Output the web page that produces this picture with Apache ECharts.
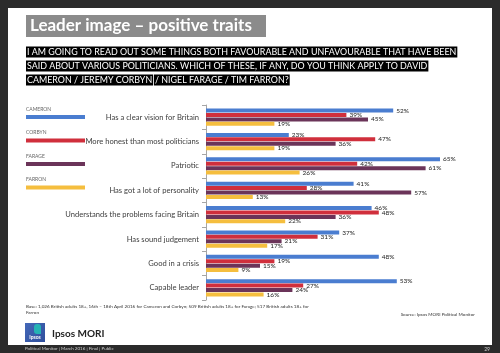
<!DOCTYPE html>
<html>
<head>
<meta charset="utf-8">
<script src="https://cdn.jsdelivr.net/npm/echarts@6/dist/echarts.min.js"></script>
<style>
  html, body { margin: 0; padding: 0; background: #2b2b2b; }
  #chart { width: 500px; height: 353px; }
</style>
</head>
<body>
<div id="chart"></div>
<script>
// traits, top to bottom
const traits = [
    'Has a clear vision for Britain',
    'More honest than most politicians',
    'Patriotic',
    'Has got a lot of personality',
    'Understands the problems facing Britain',
    'Has sound judgement',
    'Good in a crisis',
    'Capable leader'
]
const leaders = ['CAMERON', 'CORBYN', 'FARAGE', 'FARRON']
const leaderColors = ['#4a7dd0', '#d02f3c', '#6b3459', '#f5be3e']

// % saying the trait applies
const cameron = [52, 23, 65, 41, 46, 37, 48, 53]
const corbyn = [39, 47, 42, 28, 48, 31, 19, 27]
const farage = [45, 36, 61, 57, 36, 21, 15, 24]
const farron = [19, 19, 26, 13, 22, 17, 9, 16]
const values = [cameron, corbyn, farage, farron]

const questionLines = [
    'I AM GOING TO READ OUT SOME THINGS BOTH FAVOURABLE AND UNFAVOURABLE THAT HAVE BEEN',
    'SAID ABOUT VARIOUS POLITICIANS. WHICH OF THESE, IF ANY, DO YOU THINK APPLY TO DAVID',
    'CAMERON / JEREMY CORBYN',
    '/ NIGEL FARAGE / TIM FARRON?'
]

const font = 'Lato, "Open Sans", sans-serif'

const graphic = [
    // white page
    {type: 'rect', shape: {x: 8, y: 8, width: 484, height: 337}, style: {fill: '#ffffff'}},
    // title box
    {type: 'rect', shape: {x: 26, y: 15, width: 240, height: 22}, style: {fill: '#8b8b8b'}},
    {type: 'text', x: 30, y: 26, style: {text: 'Leader image – positive traits', fill: '#fff',
        font: 'bold 17px ' + font, verticalAlign: 'middle'}},
    // footer
    {type: 'text', x: 25, y: 349, style: {text: 'Political Monitor | March 2016 | Final | Public',
        fill: '#cfcfcf', font: '4.5px ' + font, verticalAlign: 'middle'}},
    {type: 'text', x: 490, y: 349, style: {text: '29', fill: '#cfcfcf', font: '5px ' + font,
        align: 'right', verticalAlign: 'middle'}},
    // base + source
    {type: 'text', x: 26, y: 310, style: {
        text: 'Base: 1,026 British adults 18+, 16th – 18th April 2016 for Cameron and Corbyn; 509 British adults 18+ for Farage; 517 British adults 18+ for\nFarron',
        fill: '#333', font: '4.6px ' + font, lineHeight: 6, verticalAlign: 'middle'}},
    {type: 'text', x: 475, y: 315, style: {text: 'Source: Ipsos MORI Political Monitor', fill: '#333',
        font: '4.6px ' + font, align: 'right', verticalAlign: 'middle'}},
    // logo
    {type: 'rect', shape: {x: 25, y: 323, width: 20, height: 19}, style: {
        fill: new echarts.graphic.LinearGradient(0, 0, 1, 1, [
            {offset: 0, color: '#4468b8'}, {offset: 1, color: '#2f4f9c'}])}},
    {type: 'rect', shape: {x: 34, y: 324, width: 7, height: 10, r: [3, 3, 0, 3]}, style: {fill: '#25b3b4'}},
    {type: 'text', x: 35, y: 337.5, style: {text: 'Ipsos', fill: '#fff', font: 'bold 5px ' + font,
        align: 'center', verticalAlign: 'middle'}},
    {type: 'text', x: 52, y: 334, style: {text: 'Ipsos MORI', fill: '#222', font: 'bold 10px ' + font,
        verticalAlign: 'middle'}}
]

// question lines with black highlight
const qPos = [[26, 52], [26, 66], [26, 80], [154, 80]]
questionLines.forEach((t, i) => {
    graphic.push({type: 'text', x: qPos[i][0], y: qPos[i][1], style: {
        text: t, fill: '#fff', font: '8.9px ' + font, backgroundColor: '#000',
        padding: [1, 1, 1, 1], verticalAlign: 'middle'}})
})

// legend: name above a coloured strip
leaders.forEach((name, i) => {
    const y = 109 + i * 23.5
    graphic.push({type: 'text', x: 26, y: y, style: {text: name, fill: '#666',
        font: '5px ' + font, verticalAlign: 'middle'}})
    graphic.push({type: 'rect', shape: {x: 26, y: y + 6, width: 59, height: 4},
        style: {fill: leaderColors[i]}})
})

const chart = echarts.init(document.getElementById('chart'))
chart.setOption({
    backgroundColor: '#2b2b2b',
    animation: false,
    graphic: graphic,
    grid: {left: 206, top: 105, width: 270, height: 195, containLabel: false},
    xAxis: {
        type: 'value', min: 0, max: 75,
        show: false
    },
    yAxis: {
        type: 'category',
        inverse: true,
        data: traits,
        axisLine: {lineStyle: {color: '#a6a6a6', width: 1}},
        axisTick: {show: true, length: 4, lineStyle: {color: '#a6a6a6'}},
        axisLabel: {color: '#404040', fontSize: 7.6, fontFamily: font, margin: 7}
    },
    series: leaders.map((name, i) => ({
        name: name,
        type: 'bar',
        data: values[i],
        barWidth: 4,
        barGap: '10%',
        itemStyle: {color: leaderColors[i]},
        label: {
            show: true, position: 'right', distance: 3,
            formatter: '{c}%', fontSize: 6.5, color: '#222', fontFamily: font
        }
    }))
})
</script>
</body>
</html>
